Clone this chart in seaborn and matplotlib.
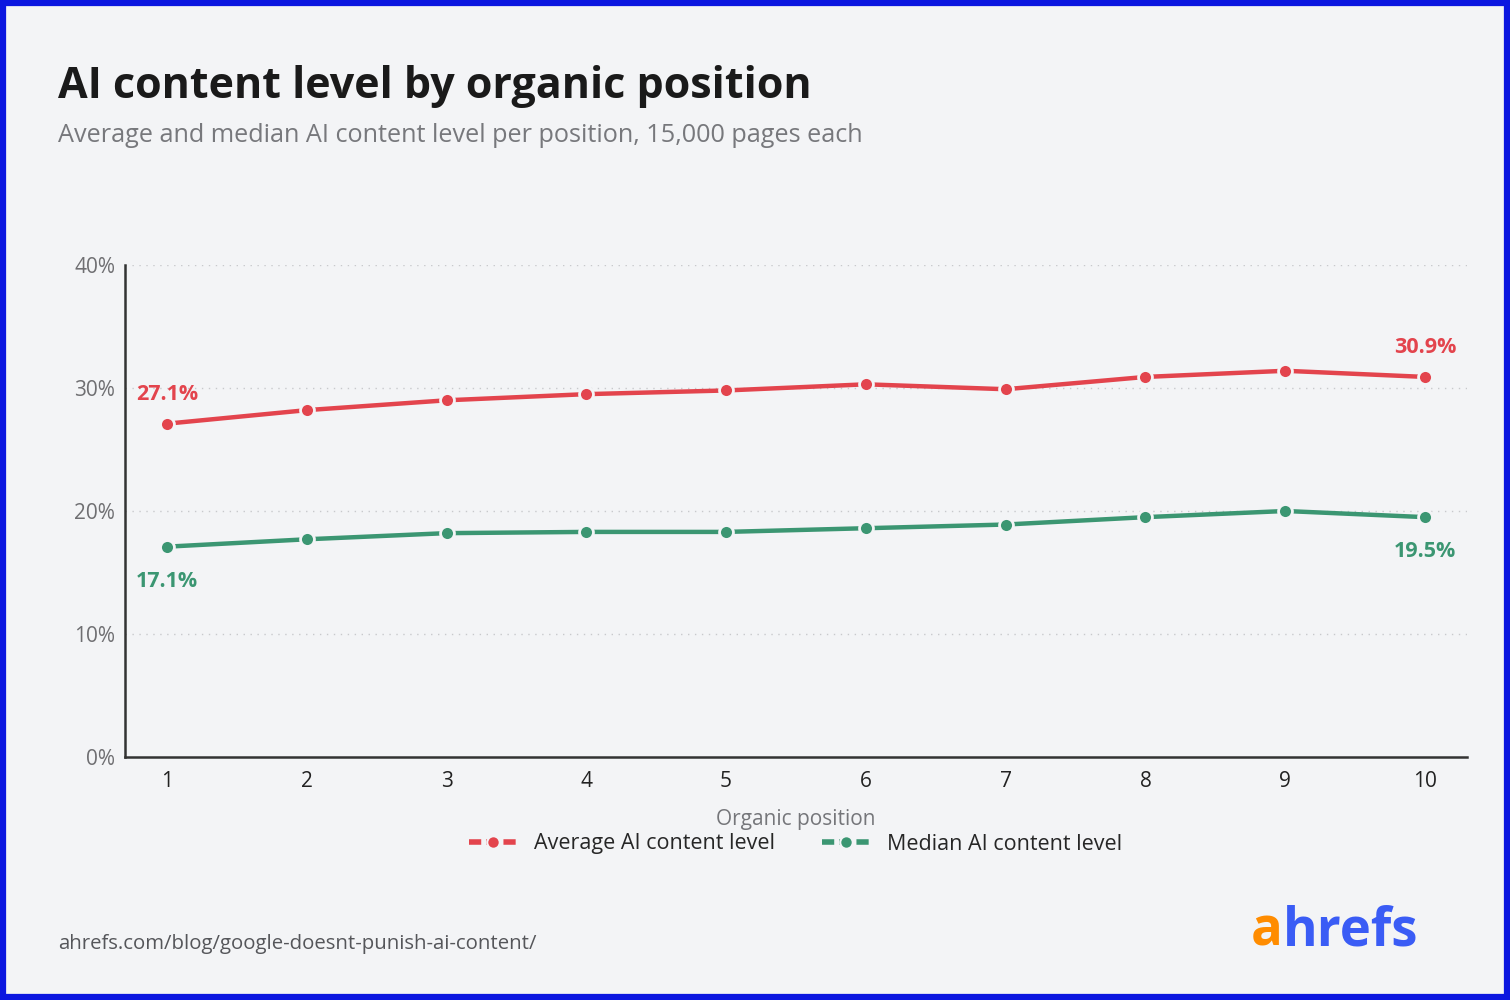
"""
AI content level by organic position (ahrefs)
"""

import pandas as pd
import matplotlib.pyplot as plt
import matplotlib.ticker as mticker
from matplotlib.lines import Line2D
from matplotlib.patches import Rectangle
from matplotlib.offsetbox import TextArea, HPacker, AnchoredOffsetbox
import seaborn as sns

sns.set_theme(style="white")
plt.rcParams["font.family"] = ["Open Sans", "DejaVu Sans"]

BG = "#f3f4f6"
RED = "#e3444d"
GREEN = "#3b9672"

# ── Data ─────────────────────────────────────────────────────────────────────
positions = [1, 2, 3, 4, 5, 6, 7, 8, 9, 10]
average_level = [27.1, 28.2, 29.0, 29.5, 29.8, 30.3, 29.9, 30.9, 31.4, 30.9]
median_level = [17.1, 17.7, 18.2, 18.3, 18.3, 18.6, 18.9, 19.5, 20.0, 19.5]
series_names = ["Average AI content level", "Median AI content level"]
y_ticks = [0, 10, 20, 30, 40]

df = pd.DataFrame({
    "position": positions * 2,
    "level": average_level + median_level,
    "series": [series_names[0]] * len(positions) + [series_names[1]] * len(positions),
})
palette = {series_names[0]: RED, series_names[1]: GREEN}

# ── Figure ───────────────────────────────────────────────────────────────────
fig = plt.figure(figsize=(15.1, 10), dpi=100, facecolor=BG)
ax = fig.add_axes([0.0828, 0.243, 0.8887, 0.492], facecolor=BG)

sns.lineplot(data=df, x="position", y="level", hue="series", palette=palette,
             marker="o", markersize=10, markeredgecolor=BG, markeredgewidth=2,
             linewidth=3.2, ax=ax, legend=False)

ax.set_xlim(0.70, 10.30)
ax.set_ylim(0, 40)
ax.set_xticks(positions)
ax.set_yticks(y_ticks)
ax.yaxis.set_major_formatter(mticker.FuncFormatter(lambda v, _: f"{v:.0f}%"))
ax.tick_params(axis="y", labelsize=15, labelcolor="#6f6f72", length=0, pad=7)
ax.tick_params(axis="x", labelsize=15, labelcolor="#222222", length=0, pad=10)
for v in y_ticks[1:]:
    ax.axhline(v, color="#c8c9cc", linestyle=(0, (1, 4)), linewidth=1, zorder=0)

for side in ["top", "right"]:
    ax.spines[side].set_visible(False)
for side in ["left", "bottom"]:
    ax.spines[side].set_color("#333333")
    ax.spines[side].set_linewidth(1.8)

ax.set_xlabel("Organic position", fontsize=15, color="#75767a", labelpad=12)
ax.set_ylabel("")

# end labels
lab = dict(textcoords="offset points", ha="center", va="center",
           fontsize=15.5, fontweight="bold")
ax.annotate(f"{average_level[0]}%", (positions[0], average_level[0]),
            xytext=(0, 21), color=RED, **lab)
ax.annotate(f"{average_level[-1]}%", (positions[-1], average_level[-1]),
            xytext=(0, 21), color=RED, **lab)
ax.annotate(f"{median_level[0]}%", (positions[0], median_level[0]),
            xytext=(0, -25), color=GREEN, **lab)
ax.annotate(f"{median_level[-1]}%", (positions[-1], median_level[-1]),
            xytext=(0, -25), color=GREEN, **lab)

# legend
handles = [Line2D([0], [0], color=c, linewidth=4, linestyle=(0, (2.2, 0.9)),
                  marker="o", markersize=9, markeredgecolor=BG, markeredgewidth=1.5)
           for c in [RED, GREEN]]
fig.legend(handles, series_names, loc="center", bbox_to_anchor=(0.527, 0.156),
           ncol=2, frameon=False, fontsize=15.5, handlelength=2.2,
           columnspacing=2.2, handletextpad=0.8)

# titles and footer
fig.text(0.0385, 0.914, "AI content level by organic position", fontsize=31,
         fontweight="bold", color="#1a1a1a", va="center")
fig.text(0.0385, 0.864, "Average and median AI content level per position, 15,000 pages each",
         fontsize=18.2, color="#77787c", va="center")
fig.text(0.0385, 0.056, "ahrefs.com/blog/google-doesnt-punish-ai-content/",
         fontsize=14.7, color="#55565a", va="center")

# logo
logo = HPacker(children=[
    TextArea("a", textprops=dict(fontsize=38, fontweight="bold", color="#ff8c00")),
    TextArea("hrefs", textprops=dict(fontsize=38, fontweight="bold", color="#3a5cf5")),
], sep=0, pad=0, align="baseline")
fig.add_artist(AnchoredOffsetbox(loc="center", child=logo, frameon=False, pad=0,
                                 bbox_to_anchor=(0.884, 0.068),
                                 bbox_transform=fig.transFigure))

# border
fig.patches.append(Rectangle((0.002, 0.003), 0.996, 0.994, transform=fig.transFigure,
                             fill=False, edgecolor="#0b16e0", linewidth=4.5))

fig.savefig("out.png", dpi=100, facecolor=BG)
